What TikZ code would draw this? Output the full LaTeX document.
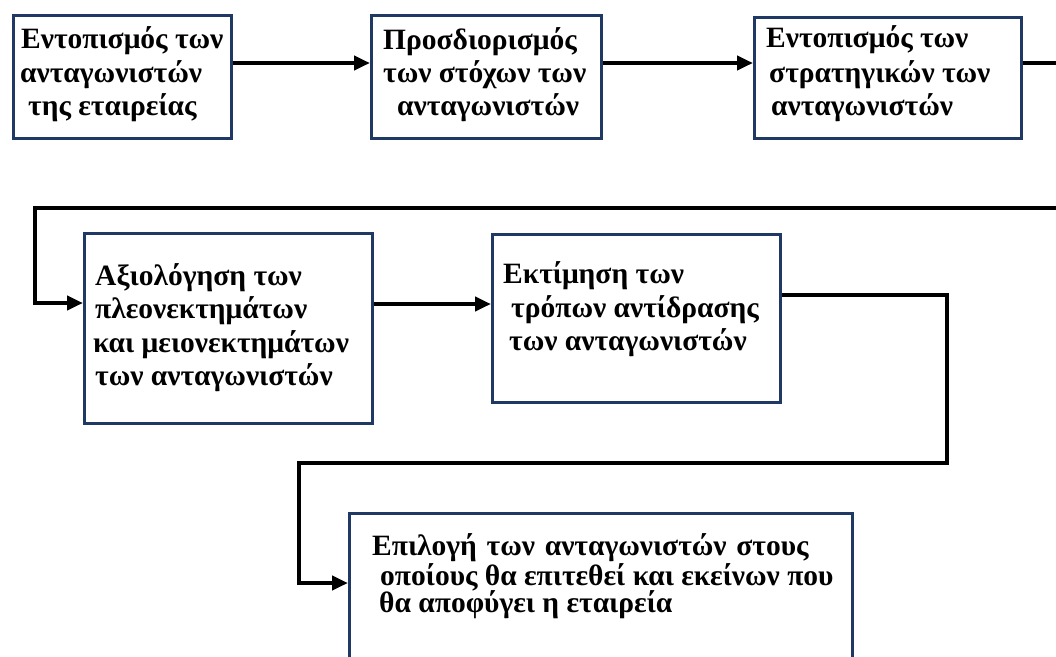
\documentclass[tikz,border=0pt]{standalone}
\usepackage{fontspec}
\setmainfont{Liberation Serif}
\usetikzlibrary{arrows.meta}
\definecolor{boxblue}{RGB}{31,56,100}
\newcommand\boxline[4]{\node[txt] (#1) at (#2) {#3#4};}
\begin{document}
\begin{tikzpicture}[x=1pt,y=-1pt,
  stage/.style={draw=boxblue,line width=2.8pt,fill=white,anchor=north west,inner sep=0pt},
  flow/.style={line width=4.4pt,line join=miter,-{Triangle[length=16pt,width=14pt]}},
  plain/.style={line width=4.4pt,line join=miter},
  txt/.style={inner sep=0pt,anchor=base west,font=\fontsize{29.5}{33}\selectfont\bfseries}]
\useasboundingbox (0,0) rectangle (1056,656);
\clip (0,0) rectangle (1056,656);
\fill[white] (0,0) rectangle (1056,656);

% stage boxes
\node[stage,minimum width=218pt,minimum height=123pt] (b1) at (12,14) {};
\node[stage,minimum width=230pt,minimum height=123pt] (b2) at (370,14) {};
\node[stage,minimum width=267pt,minimum height=121pt] (b3) at (753,16) {};
\node[stage,minimum width=288pt,minimum height=190pt] (b4) at (83,232) {};
\node[stage,minimum width=288pt,minimum height=168pt] (b5) at (491,233) {};
\node[stage,minimum width=503pt,minimum height=200pt] (b6) at (348,512) {};

% box texts, one line per node
\boxline{t1a}{21,48}{}{Εντοπισμός των}
\boxline{t1b}{20,82}{}{ανταγωνιστών}
\boxline{t1c}{28,115}{}{της εταιρείας}

\boxline{t2a}{383,49}{}{Προσδιορισμός}
\boxline{t2b}{383,82}{}{των στόχων των}
\boxline{t2c}{397,115}{}{ανταγωνιστών}

\boxline{t3a}{766,47}{}{Εντοπισμός των}
\boxline{t3b}{769,82}{}{στρατηγικών των}
\boxline{t3c}{771,115}{}{ανταγωνιστών}

\boxline{t4a}{95,285}{}{Αξιολόγηση των}
\boxline{t4b}{95,318}{}{πλεονεκτημάτων}
\boxline{t4c}{93,352}{}{και μειονεκτημάτων}
\boxline{t4d}{95,385}{}{των ανταγωνιστών}

\boxline{t5a}{503,283}{}{Εκτίμηση των}
\boxline{t5b}{511,317}{}{τρόπων αντίδρασης}
\boxline{t5c}{509,350}{}{των ανταγωνιστών}

\boxline{t6a}{372,555}{\spaceskip=0.33em plus 0.1em\relax}{Επιλογή των ανταγωνιστών στους}
\boxline{t6b}{380,585}{}{οποίους θα επιτεθεί και εκείνων που}
\boxline{t6c}{379,612}{}{θα αποφύγει η εταιρεία}

% connector rows and bends
\coordinate (r1) at (0,63);
\coordinate (e1) at (1070,63);
\coordinate (e2) at (1070,208);
\coordinate (k1) at (35,208);
\coordinate (r2) at (0,303);
\coordinate (r3) at (0,304);
\coordinate (r4) at (0,295);
\coordinate (k2) at (947,463);
\coordinate (k3) at (299,463);
\coordinate (r5) at (0,583);

\draw[flow] (b1.east |- r1) -- (b2.west |- r1);
\draw[flow] (b2.east |- r1) -- (b3.west |- r1);
\draw[plain] (b3.east |- r1) -- (e1);
\draw[flow] (e2) -- (k1) |- (b4.west |- r2);
\draw[flow] (b4.east |- r3) -- (b5.west |- r3);
\draw[flow] (b5.east |- r4) -| (k2) -- (k3) |- (b6.west |- r5);
\end{tikzpicture}
\end{document}
